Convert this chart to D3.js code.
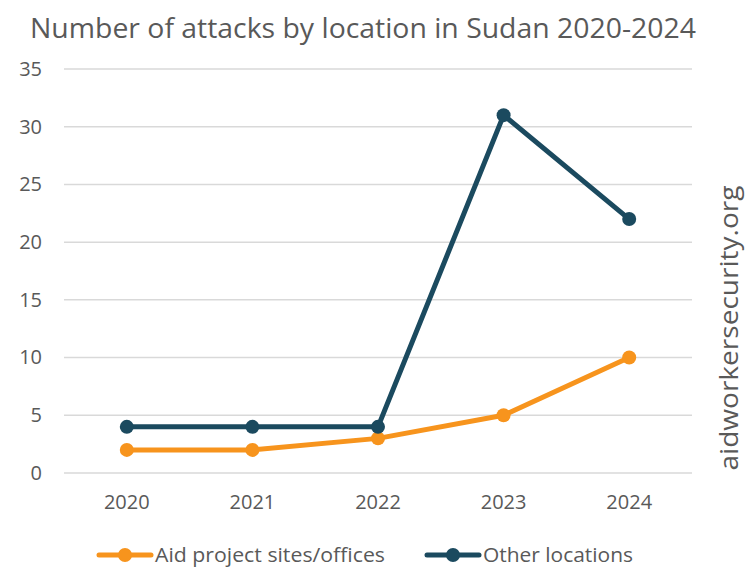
<!DOCTYPE html>
<html>
<head>
<meta charset="utf-8">
<script src="https://cdn.jsdelivr.net/npm/d3@7"></script>
<style>
  body { margin: 0; background: #fff; }
  text { font-family: "Open Sans", sans-serif; fill: #595959; }
</style>
</head>
<body>
<div id="chart"></div>
<script>
const years = ["2020", "2021", "2022", "2023", "2024"];
const aidSites = [2, 2, 3, 5, 10];
const otherLocations = [4, 4, 4, 31, 22];
const yTicks = [0, 5, 10, 15, 20, 25, 30, 35];

const width = 751, height = 568;
const margin = { top: 69, right: 59, bottom: 95, left: 64 };

const svg = d3.select("#chart").append("svg")
    .attr("width", width)
    .attr("height", height);

const x = d3.scaleBand()
    .domain(years)
    .range([margin.left, width - margin.right]);

const y = d3.scaleLinear()
    .domain([0, 35])
    .range([height - margin.bottom, margin.top]);

// gridlines
svg.append("g")
    .selectAll("line")
    .data(yTicks)
    .join("line")
    .attr("x1", margin.left)
    .attr("x2", width - margin.right)
    .attr("y1", d => y(d))
    .attr("y2", d => y(d))
    .attr("stroke", "#d9d9d9")
    .attr("stroke-width", 1.5);

// y axis labels
const yAxis = svg.append("g")
    .attr("transform", `translate(${margin.left - 22},0)`)
    .call(d3.axisLeft(y).tickValues(yTicks).tickSize(0).tickPadding(0));
yAxis.attr("font-family", null).attr("font-size", 20);
yAxis.select(".domain").remove();
yAxis.selectAll("text").attr("fill", null);

// x axis labels
const xAxis = svg.append("g")
    .attr("transform", `translate(0,${y(0) + 22})`)
    .call(d3.axisBottom(x).tickSize(0).tickPadding(0));
xAxis.attr("font-family", null).attr("font-size", 20);
xAxis.select(".domain").remove();
xAxis.selectAll("text").attr("fill", null);

const series = [
    { name: "Aid project sites/offices", values: aidSites, color: "#F7941D" },
    { name: "Other locations", values: otherLocations, color: "#1B4A5F" }
];

const line = d3.line()
    .x((d, i) => x(years[i]) + x.bandwidth() / 2)
    .y(d => y(d));

series.forEach(s => {
    svg.append("path")
        .datum(s.values)
        .attr("fill", "none")
        .attr("stroke", s.color)
        .attr("stroke-width", 5)
        .attr("stroke-linejoin", "round")
        .attr("d", line);

    svg.append("g")
        .selectAll("circle")
        .data(s.values)
        .join("circle")
        .attr("cx", (d, i) => x(years[i]) + x.bandwidth() / 2)
        .attr("cy", d => y(d))
        .attr("r", 7)
        .attr("fill", s.color);
});

// title
svg.append("text")
    .attr("x", 363)
    .attr("y", 38)
    .attr("text-anchor", "middle")
    .attr("font-size", 28)
    .attr("textLength", 666)
    .attr("lengthAdjust", "spacingAndGlyphs")
    .text("Number of attacks by location in Sudan 2020-2024");

// watermark
svg.append("text")
    .attr("transform", `translate(738,${328}) rotate(-90)`)
    .attr("text-anchor", "middle")
    .attr("font-size", 26)
    .attr("textLength", 285)
    .attr("lengthAdjust", "spacingAndGlyphs")
    .text("aidworkersecurity.org");

// legend
const legendPos = [97, 425];
const legendWidths = [230, 150];
const legend = svg.append("g");
series.forEach((s, i) => {
    const g = legend.append("g").attr("transform", `translate(${legendPos[i]},555)`);
    g.append("line")
        .attr("x1", 2).attr("x2", 54)
        .attr("stroke", s.color)
        .attr("stroke-width", 5)
        .attr("stroke-linecap", "round");
    g.append("circle")
        .attr("cx", 28)
        .attr("r", 7)
        .attr("fill", s.color);
    g.append("text")
        .attr("x", 58)
        .attr("dy", "0.35em")
        .attr("font-size", 20)
        .attr("textLength", legendWidths[i])
        .attr("lengthAdjust", "spacingAndGlyphs")
        .text(s.name);
});
</script>
</body>
</html>
